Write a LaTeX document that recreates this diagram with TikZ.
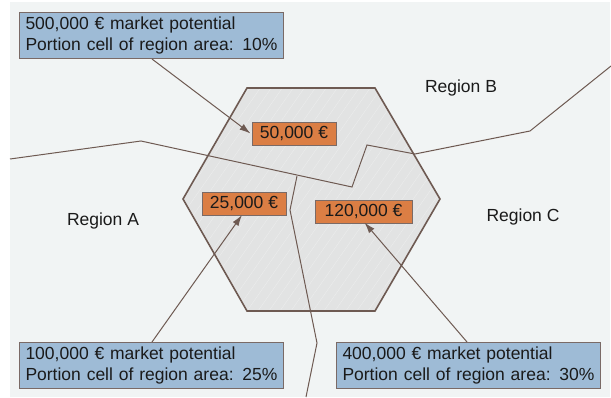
\documentclass[tikz,border=0pt]{standalone}
\usepackage{fontspec}
\setmainfont{Liberation Sans}
\usetikzlibrary{arrows.meta,patterns.meta}

\definecolor{paper}{HTML}{F1F4F4}
\definecolor{cellfill}{HTML}{E2E3E3}
\definecolor{border}{HTML}{6E5A52}
\definecolor{infoblue}{HTML}{9EBBD6}
\definecolor{valorange}{HTML}{DB7E44}
\definecolor{boxedge}{HTML}{7A6A66}
\definecolor{ink}{HTML}{1A1A1A}

\tikzset{
  regionline/.style={draw=border, line width=1pt},
  celledge/.style={draw=border, line width=1.6pt, line join=miter},
  infobox/.style={draw=boxedge, line width=1pt, fill=infoblue, anchor=north west,
    text width=252pt, minimum height=46pt, inner xsep=6pt, inner ysep=2pt,
    align=left, text=ink, font=\fontsize{17.5}{21}\selectfont},
  valuebox/.style={draw=boxedge, line width=1pt, fill=valorange, anchor=center,
    minimum height=23pt, inner xsep=5pt, inner ysep=1pt, text=ink,
    font=\fontsize{17.5}{21}\selectfont},
  regionlabel/.style={text=ink, font=\fontsize{17.5}{21}\selectfont},
  pointer/.style={draw=border, line width=1pt, -{Latex[length=11pt,width=7pt]}},
}

\begin{document}
\begin{tikzpicture}[x=1pt,y=-1pt]
  \useasboundingbox (0,0) rectangle (611,397);
  % page background
  \fill[paper] (10,2) rectangle (610,397);

  % hexagonal cell
  \fill[cellfill] (247,88) -- (375,88) -- (440,199) -- (375,311) -- (247,311) -- (183,199) -- cycle;
  \fill[pattern={Lines[angle=55,distance=9pt,line width=0.4pt]}, pattern color=white!35!cellfill]
    (247,88) -- (375,88) -- (440,199) -- (375,311) -- (247,311) -- (183,199) -- cycle;
  \draw[celledge] (247,88) -- (375,88) -- (440,199) -- (375,311) -- (247,311) -- (183,199) -- cycle;

  % region borders
  \draw[regionline] (10,159) -- (141,141) -- (352,187) -- (367,145) -- (415,154) -- (530,131) -- (611,66);
  \draw[regionline] (297,176) -- (290,210) -- (317,343) -- (306,397);

  % region names
  \node[regionlabel] (ra) at (103,221) {Region A};
  \node[regionlabel] (rb) at (461,88) {Region B};
  \node[regionlabel] (rc) at (523,217) {Region C};

  % market values of the cell parts
  \node[valuebox, minimum width=84pt] (k50) at (294,133.5) {50,000 €};
  \node[valuebox, minimum width=84pt] (k25) at (244,204) {25,000 €};
  \node[valuebox, minimum width=97pt] (k120) at (363.5,211.5) {120,000 €};

  % region details
  \node[infobox] (tl) at (19,12) {500,000 € market potential\\Portion cell of region area: 10\%};
  \node[infobox] (bl) at (19,342) {100,000 € market potential\\Portion cell of region area: 25\%};
  \node[infobox] (br) at (336,342) {400,000 € market potential\\Portion cell of region area: 30\%};

  % pointers
  \draw[pointer] ([xshift=133pt]tl.south west) -- ([xshift=-1pt]k50.west);
  \draw[pointer] ([xshift=133pt]bl.north west) -- ([xshift=-2pt,yshift=1pt]k25.south);
  \draw[pointer] ([xshift=131pt]br.north west) -- ([xshift=1pt,yshift=1pt]k120.south);
\end{tikzpicture}
\end{document}
